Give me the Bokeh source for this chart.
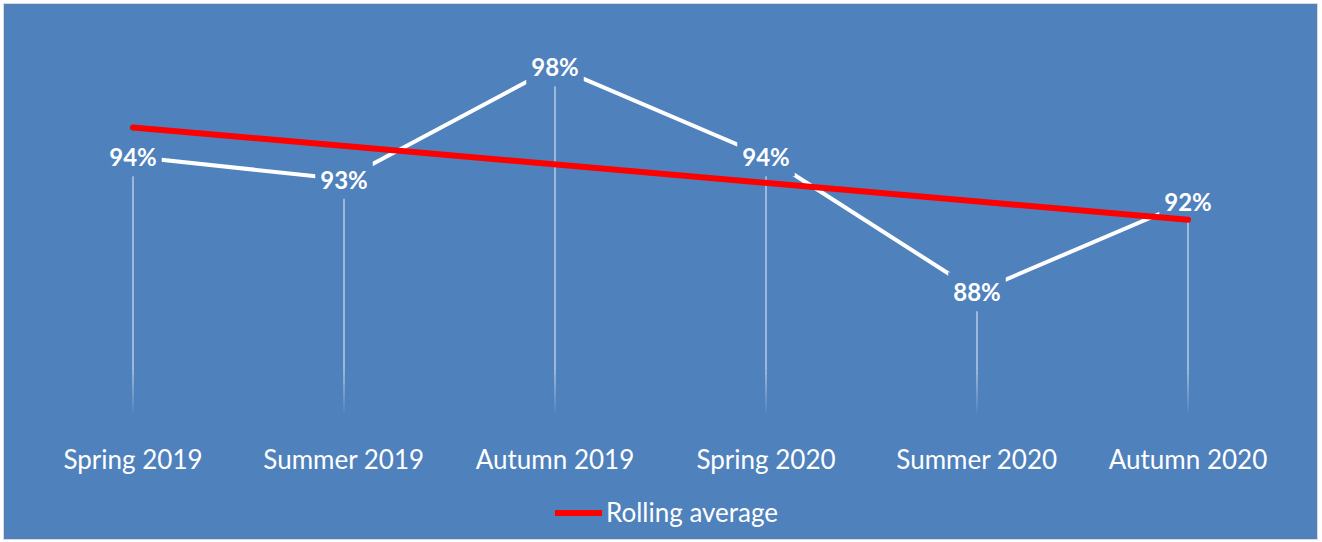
from bokeh.plotting import figure
from bokeh.layouts import column
from bokeh.models import FactorRange, Range1d, ColumnDataSource, Legend, LegendItem
from bokeh.core.properties import value
from bokeh.embed import file_html
from bokeh.resources import INLINE

# ---- data ----
categories = ["Spring 2019", "Summer 2019", "Autumn 2019", "Spring 2020", "Summer 2020", "Autumn 2020"]
values = [94, 93, 98, 94, 88, 92]
labels = ["94%", "93%", "98%", "94%", "88%", "92%"]
rolling_x = ["Spring 2019", "Autumn 2020"]
rolling_values = [95.3, 91.2]
legend_label = "Rolling average"

BG = "#4F81BD"
RED = "#FF0000"
FONT = "Lato"
Y_MIN, Y_MAX = 82.46, 99.875

p = figure(width=1313, height=473, output_backend="svg", toolbar_location=None,
           x_range=FactorRange(factors=categories, range_padding=0),
           y_range=Range1d(Y_MIN, Y_MAX),
           min_border_left=23, min_border_right=24, min_border_top=20, min_border_bottom=59)
p.background_fill_color = None
p.border_fill_color = None
p.styles = {"background-color": BG}
p.outline_line_color = None
p.grid.grid_line_color = None
p.yaxis.visible = False

xa = p.xaxis[0]
xa.axis_line_color = None
xa.major_tick_line_color = None
xa.minor_tick_line_color = None
xa.major_tick_out = 0
xa.major_tick_in = 0
xa.major_label_standoff = 26
xa.major_label_text_color = "white"
xa.major_label_text_font = FONT
xa.major_label_text_font_size = "26px"

# drop lines (solid part then fade)
fade_top = 84.5
p.segment(x0=categories, y0=values, x1=categories, y1=[fade_top] * len(values),
          line_color="white", line_alpha=0.55, line_width=1.6)
steps = 20
for i in range(steps):
    ya = fade_top - (fade_top - Y_MIN) * i / steps
    yb = fade_top - (fade_top - Y_MIN) * (i + 1) / steps
    p.segment(x0=categories, y0=[ya] * len(values), x1=categories, y1=[yb] * len(values),
              line_color="white", line_alpha=0.55 * (1 - (i + 0.5) / steps), line_width=1.6)

# main series
p.line(categories, values, line_color="white", line_width=4)

src = ColumnDataSource(dict(x=categories, y=values, t=labels))
p.text(x="x", y="y", text="t", source=src, text_align="center", text_baseline="middle",
       text_color="white", text_font=value(FONT), text_font_style="bold", text_font_size="24px",
       background_fill_color=BG, padding=5)

# rolling average
p.line(rolling_x, rolling_values, line_color=RED, line_width=6, line_cap="round")

# legend strip below the axis
p2 = figure(width=1313, height=62, output_backend="svg", toolbar_location=None,
            x_range=p.x_range, y_range=Range1d(0, 1),
            x_axis_location=None, y_axis_location=None,
            min_border_left=0, min_border_right=0, min_border_top=0, min_border_bottom=0)
p2.background_fill_color = None
p2.border_fill_color = None
p2.styles = {"background-color": BG}
p2.outline_line_color = None
p2.grid.grid_line_color = None
r_leg = p2.line(rolling_x, rolling_values, line_color=RED, line_width=6, line_cap="round")

legend = Legend(items=[LegendItem(label=legend_label, renderers=[r_leg])],
                location=(528, 11), orientation="horizontal",
                label_text_color="white", label_text_font=FONT, label_text_font_size="26px",
                glyph_width=47, glyph_height=31, label_height=31, label_standoff=4,
                background_fill_alpha=0, border_line_color=None,
                margin=0, padding=0, spacing=0)
p2.add_layout(legend, "center")

layout = column(p, p2, spacing=0)
layout.styles = {"margin-left": "4px", "margin-top": "4px", "outline": "1px solid #d9d9d9",
                 "background-color": BG}

open("out.html", "w").write(file_html(layout, INLINE))
